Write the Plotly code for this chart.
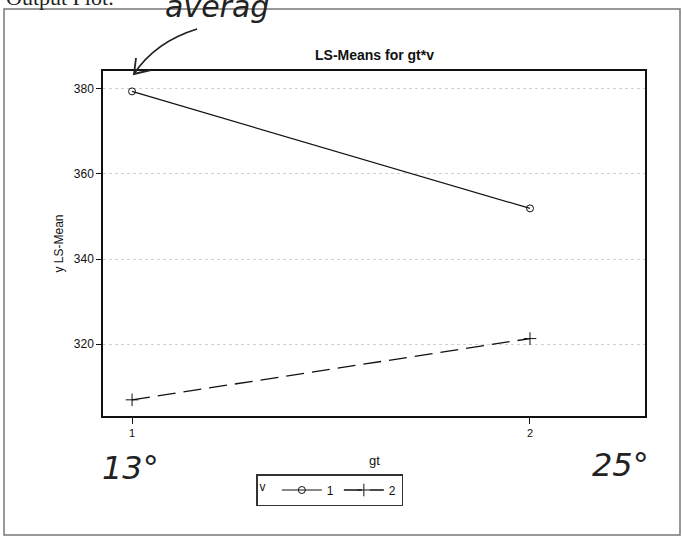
import plotly.graph_objects as go

# LS-means of y for each gt level, split by v
gt_levels = [1, 2]
v_labels = ["1", "2"]
lsmean_v1 = [379.4, 351.9]
lsmean_v2 = [306.9, 321.3]
y_ticks = [320, 340, 360, 380]

W, H = 682, 539
L, R, T, B = 103, 37, 71, 123


def px(x):
    return (x - L) / (W - L - R)


def py(y):
    return 1 - (y - T) / (H - T - B)


fig = go.Figure()
fig.add_trace(go.Scatter(
    x=gt_levels, y=lsmean_v1, name=v_labels[0], mode="lines+markers",
    line=dict(color="#111", width=1.2),
    marker=dict(symbol="circle-open", size=7, color="#111", line=dict(width=1)),
))
fig.add_trace(go.Scatter(
    x=gt_levels, y=lsmean_v2, name=v_labels[1], mode="lines+markers",
    line=dict(color="#111", width=1.3, dash="18px,8px"),
    marker=dict(symbol="cross-thin-open", size=9, color="#111", line=dict(width=1, color="#111")),
))

shapes = [
    # page frame
    dict(type="rect", xref="paper", yref="paper", x0=px(4), x1=px(680), y0=py(9), y1=py(535),
         line=dict(color="#777", width=1.5), layer="below"),
    # hand-drawn arrow
    dict(type="path", xref="paper", yref="paper",
         path=f"M {px(197)},{py(29)} Q {px(155)},{py(42)} {px(134)},{py(74)}",
         line=dict(color="#222", width=1.8)),
    dict(type="path", xref="paper", yref="paper",
         path=f"M {px(136)},{py(58)} L {px(134)},{py(74)} L {px(151)},{py(70)}",
         line=dict(color="#222", width=1.8)),
]

annotations = [
    dict(text="<b>LS-Means for gt*v</b>", x=px(374), y=py(55), xref="paper", yref="paper",
         xanchor="center", yanchor="middle",
         showarrow=False, font=dict(family="Liberation Sans, Arial", size=14, color="#111")),
    dict(text="gt", x=px(374), y=py(460), xref="paper", yref="paper",
         xanchor="center", yanchor="middle",
         showarrow=False, font=dict(family="Liberation Sans, Arial", size=13, color="#111")),
    dict(text="Output Plot:", x=px(4), y=py(12), xref="paper", yref="paper",
         xanchor="left", yanchor="bottom",
         showarrow=False, font=dict(family="Liberation Serif", size=22, color="#222")),
    dict(text="<i>averag</i>", x=px(163), y=py(-13), xref="paper", yref="paper",
         xanchor="left", yanchor="top",
         showarrow=False, font=dict(family="DejaVu Sans", size=30, color="#222")),
    dict(text="<i>13°</i>", x=px(130), y=py(468), xref="paper", yref="paper",
         xanchor="center", yanchor="middle",
         showarrow=False, font=dict(family="DejaVu Sans", size=32, color="#222")),
    dict(text="<i>25°</i>", x=px(620), y=py(465), xref="paper", yref="paper",
         xanchor="center", yanchor="middle",
         showarrow=False, font=dict(family="DejaVu Sans", size=32, color="#222")),
]

fig.update_layout(
    width=W, height=H,
    margin=dict(l=L, r=R, t=T, b=B),
    paper_bgcolor="white", plot_bgcolor="white",
    font=dict(family="Liberation Sans, Arial", size=12, color="#111"),
    showlegend=True,
    legend=dict(
        orientation="h", x=px(256), y=py(474), xanchor="left", yanchor="top",
        title=dict(text="v ", font=dict(size=12), side="left"),
        bordercolor="#333", borderwidth=1.5, bgcolor="white",
        font=dict(size=12), itemwidth=40, tracegroupgap=0,
    ),
    shapes=shapes,
    annotations=annotations,
)
fig.update_xaxes(
    range=[0.927, 2.289], tickvals=gt_levels, ticktext=[str(g) for g in gt_levels],
    ticks="outside", ticklen=6, tickcolor="#111", showgrid=False, zeroline=False,
    showline=True, linecolor="#111", linewidth=1.5, mirror=True,
    tickfont=dict(size=11),
)
fig.update_yaxes(
    range=[303.1, 384.2], tickvals=y_ticks, ticks="outside", ticklen=5, tickcolor="#111",
    showgrid=True, gridcolor="#d0d0d0", griddash="dot", gridwidth=1, zeroline=False,
    showline=True, linecolor="#111", linewidth=1.5, mirror=True,
    title=dict(text="y LS-Mean", standoff=8, font=dict(size=12)),
    tickfont=dict(size=12),
)

fig.write_html("out.html")
